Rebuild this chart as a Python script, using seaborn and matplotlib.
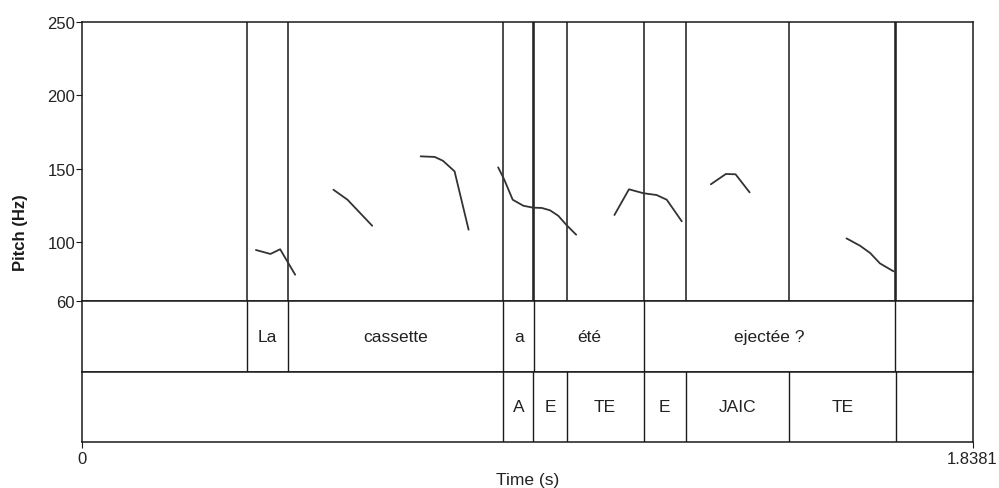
from typing import List

import pandas as pd
import seaborn as sns
from matplotlib import pyplot as plt

DURATION = 1.8381

# pitch track, one list per voiced stretch (time in s, pitch in Hz)
seg_times = [
	[0.359, 0.389, 0.409, 0.440],
	[0.519, 0.548, 0.599],
	[0.699, 0.728, 0.745, 0.769, 0.798],
	[0.859, 0.871, 0.889, 0.911, 0.931, 0.949, 0.966, 0.983, 1.000, 1.020],
	[1.099, 1.129, 1.159, 1.186, 1.207, 1.238],
	[1.298, 1.329, 1.349, 1.378],
	[1.578, 1.606, 1.627, 1.647, 1.675],
]
seg_pitch = [
	[94.7, 92.0, 95.2, 77.9],
	[135.7, 128.9, 111.2],
	[158.4, 158.0, 155.4, 148.2, 108.5],
	[150.9, 143.0, 128.9, 124.8, 123.5, 123.3, 121.7, 118.0, 111.7, 105.1],
	[118.5, 136.0, 133.3, 132.1, 128.9, 114.2],
	[139.4, 146.4, 146.2, 133.9],
	[102.6, 97.6, 92.6, 85.6, 80.2],
]

# word tier
word_starts = [0.3412, 0.4252, 0.8696, 0.9337, 1.1593]
word_ends = [0.4252, 0.8696, 0.9337, 1.1593, 1.6775]
word_labels = ["La", "cassette", "a", "été", "ejectée ?"]

# phone tier
phone_starts = [0.8696, 0.9318, 1.0004, 1.1593, 1.2461, 1.4599]
phone_ends = [0.9318, 1.0004, 1.1593, 1.2461, 1.4599, 1.6797]
phone_labels = ["A", "E", "TE", "E", "JAIC", "TE"]

pitch_ticks = [60, 100, 150, 200, 250]

INK = "#1a1a1a"


def boundaries(starts: List[float], ends: List[float]) -> List[float]:
	return sorted(set(starts) | set(ends))


def draw_tier(ax, starts, ends, labels):
	for b in boundaries(starts, ends):
		ax.axvline(b, color=INK, lw=1.0)
	for s, e, lab in zip(starts, ends, labels):
		ax.text((s + e) / 2, 0.5, lab, ha="center", va="center", fontsize=12.5, color="#222222")
	ax.set_xlim(0, DURATION)
	ax.set_ylim(0, 1)
	ax.set_yticks([])


sns.set_style("ticks")
plt.rcParams["font.family"] = ["Liberation Sans", "DejaVu Sans"]
plt.rcParams["axes.edgecolor"] = INK
plt.rcParams["axes.linewidth"] = 1.1

fig = plt.figure(figsize=(9.99, 4.89), dpi=100)
ax_pitch = fig.add_axes([0.08208, 0.3824, 0.8914, 0.5712])
ax_words = fig.add_axes([0.08208, 0.2378, 0.8914, 0.1446])
ax_phones = fig.add_axes([0.08208, 0.0947, 0.8914, 0.1431])

rows = [
	{"time": t, "pitch": p, "segment": i}
	for i, (ts, ps) in enumerate(zip(seg_times, seg_pitch)) for t, p in zip(ts, ps)
]
df = pd.DataFrame(rows)

# every boundary of either tier, drawn once
all_bounds = sorted(set(word_starts + word_ends + phone_starts + phone_ends))
for b in all_bounds:
	ax_pitch.axvline(b, color=INK, lw=1.1)
sns.lineplot(data=df, x="time", y="pitch", units="segment", estimator=None,
	color="#333333", lw=1.3, ax=ax_pitch, legend=False)
ax_pitch.set_xlim(0, DURATION)
ax_pitch.set_ylim(60, 250)
ax_pitch.set_yticks(pitch_ticks)
ax_pitch.set_xticks([])
ax_pitch.set_xlabel("")
ax_pitch.tick_params(axis="y", length=4, pad=1, labelsize=12, colors=INK, labelcolor="#222222")
ax_pitch.set_ylabel("Pitch (Hz)", fontsize=12, fontweight="bold", color=INK)
ax_pitch.yaxis.set_label_coords(-0.061, 0.25)

draw_tier(ax_words, word_starts, word_ends, word_labels)
ax_words.set_xticks([])

draw_tier(ax_phones, phone_starts, phone_ends, phone_labels)
ax_phones.set_xticks([0, DURATION])
ax_phones.set_xticklabels(["0", "1.8381"])
ax_phones.tick_params(axis="x", length=4, pad=3, labelsize=12, colors=INK, labelcolor="#222222")
ax_phones.set_xlabel("Time (s)", fontsize=12.5, color="#222222", labelpad=4)

fig.savefig("out.png", dpi=100)
